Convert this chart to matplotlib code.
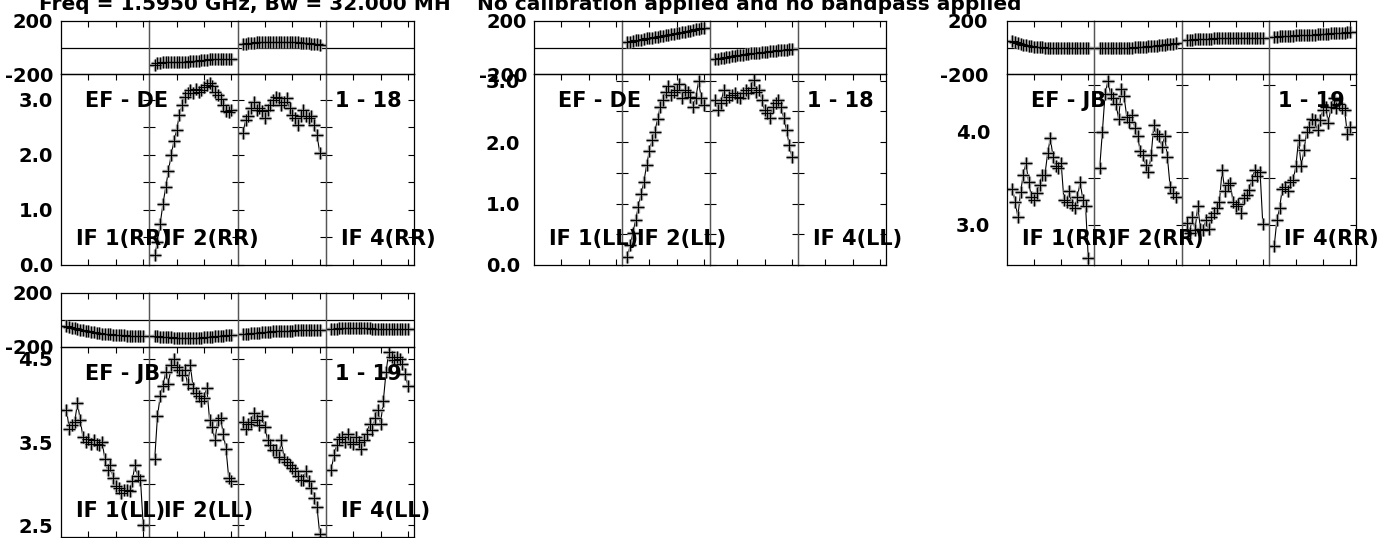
import matplotlib
matplotlib.use("Agg")
import matplotlib.pyplot as plt

# channels plotted in every IF
chan = list(range(2, 31))

# EF - DE, RR  (IF 1 and IF 4 have no data)
de_rr_ph_if2 = [-132, -120, -115, -113, -112, -111, -111, -110, -109, -109, -108, -107, -106, -105, -103,
                -101, -99, -97, -94, -91, -88, -85, -84, -84, -85, -86, -86, -87, -87]
de_rr_ph_if3 = [25, 30, 33, 35, 37, 38, 39, 40, 41, 42, 42, 43, 43, 43, 43, 42, 42, 41, 40, 39, 38, 37,
                36, 34, 32, 30, 28, 25, 22]
de_rr_amp_if2 = [0.18, 0.42, 0.75, 1.11, 1.41, 1.71, 2.00, 2.25, 2.45, 2.73, 2.90, 3.05, 3.12, 3.18, 3.13,
                 3.20, 3.14, 3.18, 3.23, 3.27, 3.30, 3.26, 3.14, 3.08, 3.02, 2.90, 2.80, 2.78, 2.82]
de_rr_amp_if3 = [2.40, 2.64, 2.70, 2.85, 2.97, 2.82, 2.85, 2.79, 2.67, 2.82, 2.91, 3.00, 3.06, 3.03, 2.91,
                 2.97, 3.03, 2.85, 2.73, 2.67, 2.55, 2.70, 2.82, 2.70, 2.67, 2.70, 2.55, 2.37, 2.04]

# EF - DE, LL
de_ll_ph_if2 = [38, 43, 49, 53, 57, 60, 64, 68, 71, 75, 78, 82, 86, 89, 93, 97, 100, 104, 108, 112, 116,
                120, 124, 128, 133, 137, 141, 145, 150]
de_ll_ph_if3 = [-90, -85, -80, -76, -72, -68, -65, -62, -59, -56, -53, -50, -48, -45, -43, -40, -38, -36,
                -33, -31, -28, -26, -24, -22, -20, -18, -16, -14, -12]
de_ll_amp_if2 = [0.13, 0.32, 0.52, 0.74, 0.95, 1.16, 1.35, 1.63, 1.85, 2.03, 2.17, 2.37, 2.58, 2.69, 2.82,
                 2.91, 2.77, 2.82, 2.85, 2.94, 2.72, 2.85, 2.82, 2.74, 2.58, 2.72, 2.99, 2.72, 2.61]
de_ll_amp_if3 = [2.69, 2.52, 2.64, 2.85, 2.69, 2.74, 2.77, 2.80, 2.74, 2.72, 2.80, 2.85, 2.80, 2.88, 3.02,
                 2.82, 2.85, 2.69, 2.52, 2.47, 2.39, 2.58, 2.64, 2.69, 2.58, 2.39, 2.20, 1.95, 1.76]

# EF - JB, RR
jb_rr_ph_if1 = [48, 40, 33, 27, 22, 17, 13, 10, 7, 5, 3, 1, 0, -1, -2, -3, -4, -5, -5, -6, -6, -7, -7,
                -7, -7, -7, -7, -6, -6]
jb_rr_ph_if2 = [-7, -7, -7, -6, -6, -5, -5, -4, -4, -3, -2, -1, 0, 1, 2, 4, 5, 7, 9, 11, 13, 15, 17, 19,
                22, 24, 27, 30, 33]
jb_rr_ph_if3 = [55, 58, 60, 62, 63, 64, 65, 66, 67, 67, 68, 68, 69, 69, 70, 70, 71, 71, 72, 72, 72, 73,
                73, 73, 74, 74, 74, 75, 75]
jb_rr_ph_if4 = [80, 82, 84, 85, 86, 87, 88, 90, 91, 92, 93, 94, 95, 96, 97, 98, 100, 101, 102, 103, 105,
                106, 107, 108, 110, 111, 113, 115, 117]
jb_rr_amp_if1 = [3.39, 3.25, 3.09, 3.35, 3.54, 3.66, 3.46, 3.30, 3.27, 3.34, 3.43, 3.54, 3.54, 3.77, 3.93,
                 3.73, 3.63, 3.61, 3.66, 3.27, 3.25, 3.36, 3.21, 3.18, 3.30, 3.46, 3.27, 3.20, 2.64]
jb_rr_amp_if2 = [3.61, 4.00, 4.41, 4.54, 4.41, 4.36, 4.30, 4.14, 4.46, 4.38, 4.16, 4.11, 4.18, 4.04, 3.95,
                 3.79, 3.75, 3.64, 3.57, 3.75, 4.07, 3.98, 3.95, 3.84, 3.95, 3.73, 3.41, 3.34, 3.30]
jb_rr_amp_if3 = [3.02, 2.91, 3.09, 2.95, 3.20, 2.96, 2.95, 3.05, 2.96, 3.09, 3.13, 3.18, 3.25, 3.59, 3.36,
                 3.43, 3.45, 3.25, 3.20, 3.23, 3.13, 3.29, 3.32, 3.38, 3.48, 3.59, 3.52, 3.57, 3.01]
jb_rr_amp_if4 = [2.77, 3.05, 3.18, 3.39, 3.41, 3.36, 3.46, 3.48, 3.63, 3.91, 3.63, 3.80, 4.00, 4.05, 4.14,
                 4.13, 4.02, 4.13, 4.23, 4.27, 4.09, 4.27, 4.36, 4.25, 4.30, 4.25, 4.23, 3.98, 4.05]

# EF - JB, LL
jb_ll_ph_if1 = [-42, -50, -56, -62, -67, -72, -76, -80, -84, -88, -91, -94, -97, -100, -102, -104, -106,
                -108, -110, -112, -113, -114, -116, -117, -118, -119, -120, -120, -121]
jb_ll_ph_if2 = [-120, -122, -124, -126, -127, -128, -129, -130, -131, -132, -132, -133, -133, -133, -133,
                -132, -131, -130, -129, -127, -125, -123, -121, -119, -117, -115, -113, -111, -109]
jb_ll_ph_if3 = [-106, -103, -101, -99, -97, -95, -93, -91, -90, -88, -87, -85, -84, -83, -82, -81, -80,
                -79, -78, -77, -76, -76, -75, -74, -74, -73, -73, -72, -72]
jb_ll_ph_if4 = [-67, -65, -63, -61, -60, -59, -59, -58, -58, -59, -59, -60, -61, -62, -62, -63, -63, -64,
                -64, -65, -65, -65, -66, -66, -66, -67, -67, -67, -67]
jb_ll_amp_if1 = [3.89, 3.66, 3.70, 3.74, 3.97, 3.77, 3.56, 3.50, 3.54, 3.48, 3.52, 3.48, 3.46, 3.50, 3.30,
                 3.17, 3.23, 3.07, 2.97, 2.95, 2.89, 2.93, 2.93, 2.91, 3.03, 3.23, 3.09, 3.05, 2.50]
jb_ll_amp_if2 = [3.30, 3.81, 4.05, 4.17, 4.34, 4.19, 4.42, 4.50, 4.40, 4.36, 4.30, 4.36, 4.19, 4.42, 4.15,
                 4.09, 4.05, 3.99, 4.03, 4.15, 3.77, 3.68, 3.52, 3.77, 3.79, 3.60, 3.42, 3.07, 3.03]
jb_ll_amp_if3 = [3.74, 3.66, 3.72, 3.74, 3.85, 3.77, 3.70, 3.81, 3.68, 3.52, 3.46, 3.40, 3.40, 3.32, 3.52,
                 3.30, 3.26, 3.23, 3.19, 3.15, 3.09, 3.05, 3.05, 3.15, 3.03, 2.95, 2.83, 2.72, 2.40]
jb_ll_amp_if4 = [3.17, 3.34, 3.46, 3.54, 3.56, 3.50, 3.60, 3.50, 3.48, 3.56, 3.50, 3.42, 3.52, 3.60, 3.72,
                 3.64, 3.79, 3.89, 3.72, 3.99, 4.34, 4.58, 4.52, 4.48, 4.52, 4.50, 4.44, 4.32, 4.17]

title_left = "Freq = 1.5950 GHz, Bw = 32.000 MH"
title_right = "No calibration applied and no bandpass applied"

W, H = 1393, 538
plt.rcParams['font.family'] = ['DejaVu Sans']
plt.rcParams['font.weight'] = 'bold'
fig = plt.figure(figsize=(W / 100, H / 100), dpi=100)


def px_axes(x0, x1, y0, y1):
    return fig.add_axes([x0 / W, 1 - y1 / H, (x1 - x0) / W, (y1 - y0) / H])


def fig_text(x, y, s, size=15):
    fig.text(x / W, 1 - y / H, s, ha='left', va='baseline', fontsize=size, fontweight='bold')


def draw_panel(box, phases, amps, amp_lim, amp_ticks, amp_labels, pads, baseline, pol, last):
    left, right, ptop, pbot, abot = box
    w = (right - left) / 4
    for i in range(4):
        x0 = left + i * w
        axp = px_axes(x0, x0 + w, ptop, pbot)
        axa = px_axes(x0, x0 + w, pbot, abot)
        for ax in (axp, axa):
            ax.set_xlim(0, 32.2)
            ax.set_xticks([10, 20, 30])
            ax.set_facecolor('none')
            for side, sp in ax.spines.items():
                sp.set_linewidth(0.9)
                inner = (side == 'left' and i > 0) or (side == 'right' and i < 3)
                sp.set_color('#555555' if inner else 'black')

        axp.set_ylim(-200, 200)
        axp.axhline(0, color='black', lw=0.9)
        axp.set_yticks([-200, 200])
        axp.set_yticklabels(['-200', '200'])
        axp.tick_params(axis='x', direction='in', top=True, bottom=False, labelbottom=False,
                        length=4, width=0.8)
        axp.tick_params(axis='y', length=0, labelleft=(i == 0), labelsize=14,
                        pad=pads[0] * 0.72)

        axa.set_ylim(*amp_lim)
        axa.set_yticks(amp_ticks)
        axa.set_yticklabels(amp_labels)
        axa.tick_params(axis='x', direction='in', top=True, bottom=True, labelbottom=False,
                        length=4, width=0.8)
        axa.tick_params(axis='y', direction='in', left=(i > 0), right=True, labelleft=(i == 0),
                        length=4, width=0.8, labelsize=14, pad=pads[1] * 0.72)

        for ax, vals in ((axp, phases[i]), (axa, amps[i])):
            if vals is None:
                continue
            ax.plot(chan, vals, color='black', lw=0.8)
            ax.plot(chan, vals, ls='none', marker='+', ms=8, mew=2.4, color='#9a9a9a')
            ax.plot(chan, vals, ls='none', marker='+', ms=8, mew=0.8, color='black')

    fig_text(left + 24, pbot + 33, baseline)
    fig_text(left + 3 * w + 9, pbot + 33, last)
    for k in (1, 2, 4):
        fig_text(left + (k - 1) * w + 15, abot - 20, f"IF {k}({pol})")


draw_panel((61, 414, 21, 74, 265),
           [None, de_rr_ph_if2, de_rr_ph_if3, None],
           [None, de_rr_amp_if2, de_rr_amp_if3, None],
           (0, 3.47), [0, 0.5, 1.0, 1.5, 2.0, 2.5, 3.0],
           ['0.0', '', '1.0', '', '2.0', '', '3.0'], (8, 8), "EF - DE", "RR", "1 - 18")

draw_panel((534, 886, 21, 74, 265),
           [None, de_ll_ph_if2, de_ll_ph_if3, None],
           [None, de_ll_amp_if2, de_ll_amp_if3, None],
           (0, 3.11), [0, 0.5, 1.0, 1.5, 2.0, 2.5, 3.0],
           ['0.0', '', '1.0', '', '2.0', '', '3.0'], (7, 14), "EF - DE", "LL", "1 - 18")

draw_panel((1007, 1356, 21, 74, 265),
           [jb_rr_ph_if1, jb_rr_ph_if2, jb_rr_ph_if3, jb_rr_ph_if4],
           [jb_rr_amp_if1, jb_rr_amp_if2, jb_rr_amp_if3, jb_rr_amp_if4],
           (2.57, 4.62), [3.0, 3.5, 4.0, 4.5],
           ['3.0', '', '4.0', ''], (19, 17), "EF - JB", "RR", "1 - 19")

draw_panel((61, 414, 293, 347, 537),
           [jb_ll_ph_if1, jb_ll_ph_if2, jb_ll_ph_if3, jb_ll_ph_if4],
           [jb_ll_amp_if1, jb_ll_amp_if2, jb_ll_amp_if3, jb_ll_amp_if4],
           (2.36, 4.64), [2.5, 3.0, 3.5, 4.0, 4.5],
           ['2.5', '', '3.5', '', '4.5'], (8, 8), "EF - JB", "LL", "1 - 19")

fig_text(39, 10, title_left, size=14.5)
fig_text(477, 10, title_right, size=14.5)

fig.savefig('out.png', dpi=100)
